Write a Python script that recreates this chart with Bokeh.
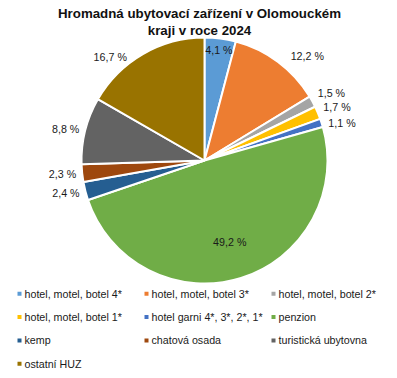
import math
from bokeh.plotting import figure
from bokeh.models import ColumnDataSource, Range1d
from bokeh.core.properties import value
from bokeh.embed import file_html
from bokeh.resources import INLINE

TITLE_LINES = ["Hromadná ubytovací zařízení v Olomouckém", "kraji v roce 2024"]
CATEGORIES = [
    "hotel, motel, botel 4*",
    "hotel, motel, botel 3*",
    "hotel, motel, botel 2*",
    "hotel, motel, botel 1*",
    "hotel garni 4*, 3*, 2*, 1*",
    "penzion",
    "kemp",
    "chatová osada",
    "turistická ubytovna",
    "ostatní HUZ",
]
SHARES = [4.1, 12.2, 1.5, 1.7, 1.1, 49.2, 2.4, 2.3, 8.8, 16.7]
COLORS = ["#5B9BD5", "#ED7D31", "#A5A5A5", "#FFC000", "#4472C4",
          "#70AD47", "#255E91", "#9E480E", "#636363", "#997300"]

W, H = 395, 376
FONT = "Liberation Sans"

p = figure(width=W, height=H, output_backend="svg", toolbar_location=None,
           x_range=Range1d(0, W), y_range=Range1d(0, H), min_border=0)
p.axis.visible = False
p.grid.visible = False
p.outline_line_color = None


def py(page_y):
    return H - page_y


cx, cy, R = 204, py(160), 123
total = sum(SHARES)
starts, ends, mids = [], [], []
cum = 0.0
for v in SHARES:
    a0 = math.pi / 2 - 2 * math.pi * cum / total
    a1 = math.pi / 2 - 2 * math.pi * (cum + v) / total
    starts.append(a0)
    ends.append(a1)
    mids.append((a0 + a1) / 2)
    cum += v

src = ColumnDataSource(dict(start=starts, end=ends, color=COLORS))
p.wedge(x=cx, y=cy, radius=R, start_angle="start", end_angle="end",
        direction="clock", fill_color="color", line_color="white",
        line_width=2, source=src)

# data labels (Excel-like placement with small nudges, screen pixels, y down)
inside = {0: 112, 5: 85}
nudge = {1: (9, -1), 2: (0, -6), 3: (0, -3), 4: (1, 2), 9: (-13, 8),
         0: (0, 1)}
lx, ly, lt, la = [], [], [], []
for i, (v, m) in enumerate(zip(SHARES, mids)):
    txt = f"{v:.1f} %".replace(".", ",")
    if i in inside:
        r = inside[i]
        align = "center"
    else:
        r = R + 6
        align = "left" if math.cos(m) > 0 else "right"
    dx, dy = nudge.get(i, (0, 0))
    lx.append(cx + r * math.cos(m) + dx)
    ly.append(cy + r * math.sin(m) - dy)
    lt.append(txt)
    la.append(align)
lsrc = ColumnDataSource(dict(x=lx, y=ly, t=lt, a=la))
p.text(x="x", y="y", text="t", text_align="a", text_baseline="middle",
       text_font=value(FONT), text_font_size="10.7px", text_color="#1a1a1a",
       source=lsrc)

# title
p.text(x=[199] * 2, y=[py(13), py(30)], text=TITLE_LINES, text_align="center",
       text_baseline="middle", text_font=value(FONT), text_font_size="13.3px",
       text_font_style="bold", text_color="#111111")

# legend (3 columns)
mx, my, tx = [], [], []
for i in range(len(CATEGORIES)):
    col, row = i % 3, i // 3
    x0 = 19 + 127 * col
    y0 = py(293.3 + row * 23.3)
    mx.append(x0)
    my.append(y0)
    tx.append(x0 + 5)
msrc = ColumnDataSource(dict(x=mx, y=my, tx=tx, c=COLORS, t=CATEGORIES))
p.scatter(x="x", y="y", marker="square", size=4, fill_color="c",
          line_color=None, source=msrc)
p.text(x="tx", y="y", text="t", text_baseline="middle", text_align="left",
       text_font=value(FONT), text_font_size="10.7px", text_color="#1a1a1a",
       source=msrc)

open("out.html", "w").write(file_html(p, INLINE))
